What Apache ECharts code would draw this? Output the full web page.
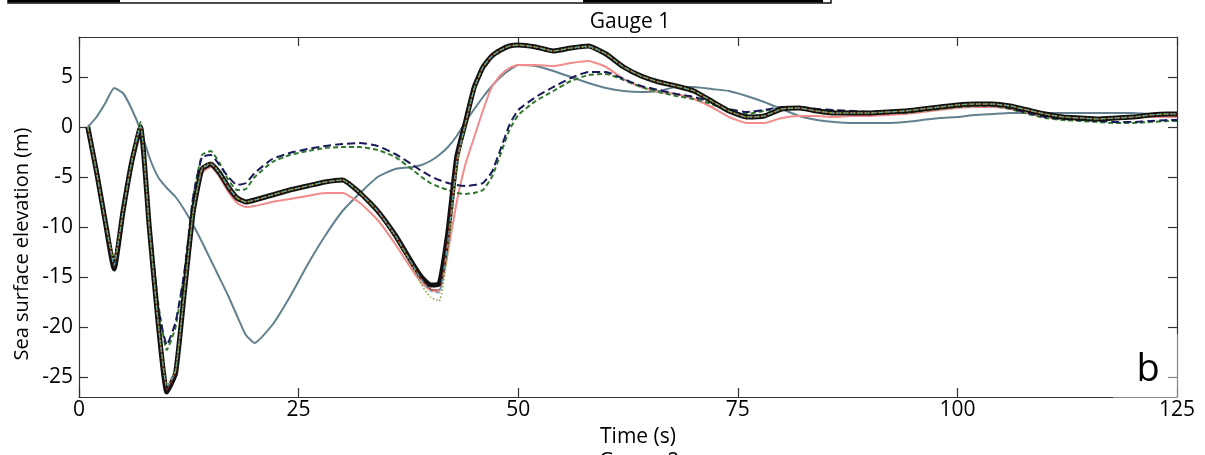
<!DOCTYPE html>
<html>
<head>
<meta charset="utf-8">
<script src="https://cdn.jsdelivr.net/npm/echarts@6/dist/echarts.min.js"></script>
<style>
html,body{margin:0;padding:0;background:#fff;}
#chart{width:1205px;height:455px;}
</style>
</head>
<body>
<div id="chart"></div>
<script>
// ---- data ----
const time = [1,2,3,4,5,6,7,8,9,10,11,12,13,14,15,16,17,18,19,20,
  22,24,26,28,30,32,34,36,38,
  39,40,41,42,43,44,45,46,47,48,49,50,
  52,54,56,58,60,62,64,66,68,70,72,74,76,78,80,82,84,86,88,90,92,94,96,98,100,102,104,106,108,110,112,114,116,118,120,122,124,125];

const xTicks = [0,25,50,75,100,125];
const yTicks = [-25,-20,-15,-10,-5,0,5];

// thick black model
const modelA = [0,-4.5,-9.5,-14.2,-8.5,-3.5,0.0,-10,-19.5,-26.5,-24.6,-16.5,-8.5,-4.2,-3.7,-4.6,-6.0,-7.1,-7.5,-7.3,
  -6.8,-6.3,-5.9,-5.5,-5.3,-6.6,-8.4,-10.8,-13.7,
  -15.0,-15.8,-15.7,-10.5,-3.0,0.5,4.0,6.0,7.1,7.7,8.1,8.2,
  8.0,7.6,7.9,8.1,7.3,6.0,5.1,4.5,4.1,3.6,2.6,1.6,1.0,1.1,1.8,1.9,1.6,1.4,1.4,1.4,1.5,1.6,1.8,2.0,2.2,2.3,2.3,2.1,1.7,1.3,1.0,0.9,0.8,0.9,1.0,1.2,1.3,1.3];
// thin red model
const modelB = [0,-4.5,-9.5,-14.0,-8.5,-3.5,0.0,-10,-19.5,-26.3,-24.5,-16.5,-8.5,-4.2,-3.7,-4.6,-6.0,-7.1,-7.5,-7.3,
  -6.8,-6.3,-5.9,-5.5,-5.3,-6.6,-8.4,-10.8,-13.8,
  -15.2,-16.2,-16.3,-11.0,-3.2,0.4,3.9,6.0,7.1,7.7,8.1,8.2,
  8.0,7.6,7.9,8.1,7.3,6.0,5.1,4.5,4.1,3.6,2.6,1.6,1.0,1.1,1.8,1.9,1.6,1.4,1.4,1.4,1.5,1.6,1.8,2.0,2.2,2.3,2.3,2.1,1.7,1.3,1.0,0.9,0.8,0.9,1.0,1.2,1.3,1.3];
// green dotted model
const modelC = [0,-4.5,-9.5,-13.3,-8.5,-3.4,0.4,-10,-19.3,-25.8,-24.3,-16.5,-8.5,-4.1,-3.6,-4.6,-6.0,-7.1,-7.5,-7.3,
  -6.8,-6.3,-5.9,-5.5,-5.3,-6.6,-8.4,-10.9,-14.0,
  -15.8,-17.0,-17.4,-12.5,-4.0,0.3,3.9,6.0,7.1,7.7,8.1,8.2,
  8.0,7.6,7.9,8.0,7.3,6.0,5.1,4.5,4.1,3.6,2.6,1.6,1.0,1.1,1.8,1.9,1.6,1.4,1.4,1.4,1.5,1.6,1.8,2.0,2.2,2.3,2.3,2.1,1.7,1.3,1.0,0.9,0.8,0.9,1.0,1.2,1.3,1.3];
// light blue dashed model
const modelD = [0,-4.5,-9.5,-13.8,-8.5,-3.5,0.1,-10,-19.5,-26.0,-24.4,-16.5,-8.5,-4.2,-3.7,-4.6,-6.0,-7.1,-7.5,-7.3,
  -6.8,-6.3,-5.9,-5.5,-5.3,-6.6,-8.4,-10.8,-13.8,
  -15.3,-16.4,-16.6,-11.5,-3.5,0.4,3.9,6.0,7.1,7.7,8.1,8.2,
  8.0,7.6,7.9,8.1,7.3,6.0,5.1,4.5,4.1,3.6,2.6,1.6,1.0,1.1,1.8,1.9,1.6,1.4,1.4,1.4,1.5,1.6,1.8,2.0,2.2,2.3,2.3,2.1,1.7,1.3,1.0,0.9,0.8,0.9,1.0,1.2,1.3,1.3];
// pink model
const modelPink = [0,-4.5,-9.5,-14.0,-8.5,-3.5,0.0,-10,-19.5,-26.3,-24.5,-16.8,-9.0,-4.6,-4.0,-5.0,-6.5,-7.6,-8.0,-7.9,
  -7.5,-7.2,-6.9,-6.6,-6.6,-7.6,-9.3,-11.7,-14.4,
  -15.6,-16.3,-16.5,-12.5,-7.5,-3.7,-1.0,1.7,4.0,5.2,5.9,6.2,
  6.2,6.1,6.4,6.6,6.0,4.8,4.0,3.5,3.3,2.8,2.0,1.0,0.4,0.4,0.9,1.1,1.1,1.0,1.1,1.1,1.2,1.3,1.5,1.7,1.9,2.0,2.0,1.8,1.4,1.0,0.8,0.7,0.7,0.8,0.9,1.0,1.0,1.0];
// grey-blue model
const modelSlate = [0,1.0,2.4,3.9,3.4,1.8,-0.3,-3.0,-5.0,-6.1,-7.0,-8.3,-9.8,-11.5,-13.3,-15.1,-16.9,-18.9,-20.8,-21.6,
  -19.8,-17.0,-13.8,-10.9,-8.4,-6.6,-5.0,-4.2,-4.0,
  -3.8,-3.4,-2.8,-2.0,-0.9,0.5,1.8,3.0,4.1,5.0,5.7,6.2,
  6.1,5.6,5.0,4.4,3.9,3.6,3.5,3.6,4.0,4.0,3.8,3.6,3.1,2.5,1.8,1.1,0.7,0.5,0.4,0.4,0.4,0.5,0.7,0.9,1.0,1.2,1.3,1.4,1.4,1.4,1.4,1.4,1.4,1.4,1.4,1.3,1.3,1.3];
// navy dashed model
const modelNavy = [0,-4.5,-9.5,-13.5,-8.3,-3.3,0.3,-9.5,-18.0,-21.8,-19.5,-14.5,-7.0,-3.0,-2.8,-3.8,-5.0,-5.8,-5.6,-4.6,
  -3.2,-2.6,-2.2,-1.9,-1.7,-1.6,-1.9,-2.7,-3.8,
  -4.4,-4.9,-5.3,-5.6,-5.8,-5.9,-5.8,-5.6,-4.5,-2.2,0.2,1.7,
  3.0,4.0,4.9,5.5,5.5,4.8,4.1,3.7,3.3,3.0,2.5,1.8,1.5,1.7,2.0,2.0,1.8,1.7,1.6,1.5,1.5,1.5,1.7,1.9,2.1,2.2,2.2,1.9,1.4,1.0,0.8,0.7,0.6,0.5,0.5,0.6,0.7,0.7];
// green dashed model
const modelGreen = [0,-4.5,-9.5,-13.3,-8.3,-3.2,0.5,-9.0,-17.5,-22.3,-20.0,-14.5,-7.0,-2.8,-2.4,-3.6,-5.3,-6.3,-6.2,-5.0,
  -3.5,-2.8,-2.4,-2.1,-2.0,-2.0,-2.3,-3.0,-4.3,
  -5.0,-5.6,-6.0,-6.3,-6.6,-6.7,-6.6,-6.3,-5.0,-2.7,-0.3,1.2,
  2.6,3.6,4.6,5.2,5.3,4.7,4.0,3.5,3.1,2.8,2.3,1.6,1.3,1.6,1.9,1.9,1.7,1.6,1.5,1.4,1.4,1.4,1.6,1.8,2.0,2.1,2.1,1.8,1.3,0.9,0.7,0.6,0.5,0.4,0.4,0.5,0.6,0.6];

// ---- chart ----
const FONT = '"Open Sans", "Liberation Sans", sans-serif';
const pairs = arr => time.map((t, i) => [t, arr[i]]);
function line(name, arr, color, width, type, z) {
  return {
    name, type: 'line', data: pairs(arr), showSymbol: false, symbol: 'none',
    smooth: 0.15, z: z, animation: false,
    lineStyle: { color, width, type }
  };
}

const chart = echarts.init(document.getElementById('chart'), null, { renderer: 'canvas' });

const axisLine = { show: true, onZero: false, lineStyle: { color: '#333', width: 1.2 } };
const axisTick = { show: true, inside: true, length: 9, lineStyle: { color: '#333', width: 1.2 } };

chart.setOption({
  animation: false,
  backgroundColor: '#fff',
  grid: { left: 79, right: 28, top: 37, bottom: 58, containLabel: false },
  xAxis: [
    {
      type: 'value', position: 'bottom', min: 0, max: 125, interval: 25,
      axisLine, axisTick, splitLine: { show: false },
      axisLabel: { show: true, margin: 3, fontSize: 21, color: '#000', fontFamily: FONT }
    },
    {
      type: 'value', position: 'top', min: 0, max: 125, interval: 25,
      axisLine, axisTick, splitLine: { show: false },
      axisLabel: { show: false }
    }
  ],
  yAxis: [
    {
      type: 'value', position: 'left', min: -27, max: 9,
      axisLine, splitLine: { show: false },
      axisTick: Object.assign({}, axisTick, { customValues: yTicks }),
      axisLabel: { show: true, margin: 6, fontSize: 21, color: '#000', fontFamily: FONT,
        customValues: yTicks }
    },
    {
      type: 'value', position: 'right', min: -27, max: 9,
      axisLine, splitLine: { show: false },
      axisTick: Object.assign({}, axisTick, { customValues: yTicks }),
      axisLabel: { show: false }
    }
  ],
  series: [
    line('Model S', modelSlate, '#62808f', 2, 'solid', 2),
    line('Model P', modelPink, '#f28b8b', 2, 'solid', 3),
    line('Model G', modelGreen, '#2e7a2a', 2, [5, 3], 4),
    line('Model N', modelNavy, '#1a1a5c', 2, [8, 4], 5),
    line('Model A', modelA, '#111111', 5, 'solid', 6),
    line('Model B', modelB, '#8b2a20', 1.2, 'solid', 7),
    line('Model D', modelD, '#5aa8cc', 1.2, [4, 3], 8),
    line('Model C', modelC, '#7fa83a', 1.6, [1.5, 2], 9)
  ],
  graphic: [
    // fragment of the figure above (cropped)
    { type: 'rect', z: 100, shape: { x: 8, y: -10, width: 823, height: 13 },
      style: { fill: '#fff', stroke: '#111', lineWidth: 1.5 } },
    { type: 'rect', z: 101, shape: { x: 8, y: -10, width: 112, height: 12.5 }, style: { fill: '#000' } },
    { type: 'rect', z: 101, shape: { x: 583, y: -10, width: 240, height: 12.5 }, style: { fill: '#000' } },
    // title
    { type: 'text', z: 100, x: 630, y: 22,
      style: { text: 'Gauge 1', font: '21px ' + FONT, fill: '#000', align: 'center', verticalAlign: 'middle' } },
    // x label
    { type: 'text', z: 100, x: 638, y: 437,
      style: { text: 'Time (s)', font: '21px ' + FONT, fill: '#000', align: 'center', verticalAlign: 'middle' } },
    // y label
    { type: 'text', z: 100, x: 22, y: 244, rotation: Math.PI / 2,
      style: { text: 'Sea surface elevation (m)', font: '20px ' + FONT, fill: '#000', align: 'center', verticalAlign: 'middle' } },
    // panel label box
    { type: 'rect', z: 100, shape: { x: 1113, y: 334, width: 70, height: 66 },
      style: { fill: 'rgba(255,255,255,0.4)' } },
    { type: 'text', z: 101, x: 1148, y: 370,
      style: { text: 'b', font: '38px ' + FONT, fill: '#000', align: 'center', verticalAlign: 'middle' } },
    // fragment of next panel title (cropped)
    { type: 'text', z: 100, x: 639, y: 462,
      style: { text: 'Gauge 2', font: '21px ' + FONT, fill: '#000', align: 'center', verticalAlign: 'middle' } }
  ]
});
</script>
</body>
</html>
